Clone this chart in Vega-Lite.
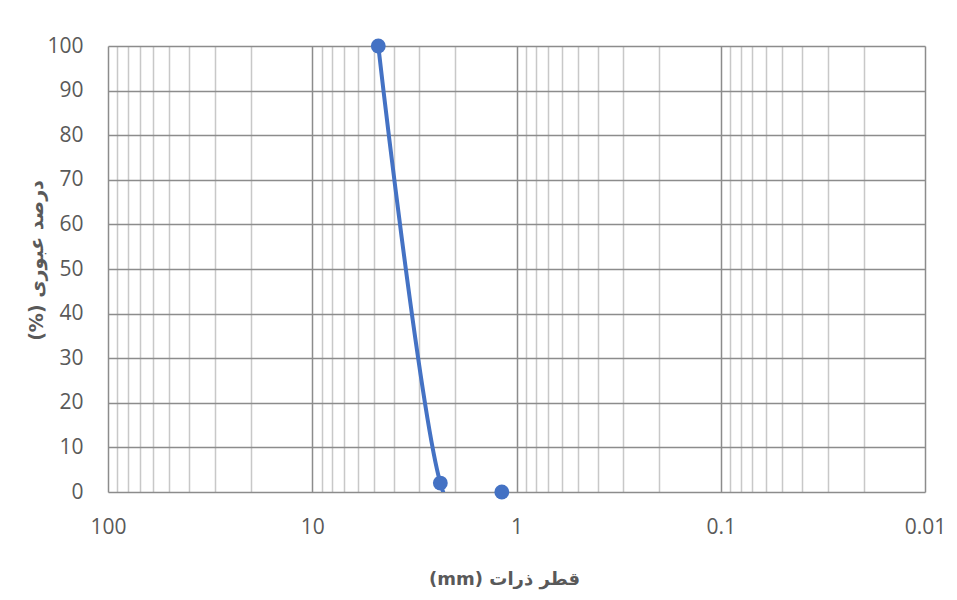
{
  "$schema": "https://vega.github.io/schema/vega-lite/v6.json",
  "width": 817,
  "height": 446,
  "autosize": {"type": "none"},
  "padding": {"left": 108, "top": 46, "right": 32, "bottom": 108},
  "background": "white",
  "config": {"view": {"stroke": null}},
  "data": {"values": [
    {"d": 4.75, "p": 100},
    {"d": 2.36, "p": 2},
    {"d": 1.18, "p": 0}
  ]},
  "encoding": {
    "x": {
      "field": "d", "type": "quantitative",
      "scale": {"type": "log", "domain": [0.01, 100], "reverse": true, "nice": false},
      "axis": {
        "title": "\u202Bقطر ذرات (mm)\u202C",
        "values": [0.01,0.02,0.03,0.04,0.05,0.06,0.07,0.08,0.09,0.1,0.2,0.3,0.4,0.5,0.6,0.7,0.8,0.9,1,2,3,4,5,6,7,8,9,10,20,30,40,50,60,70,80,90,100],
        "format": "~g",
        "labelExpr": "indexof([0.01,0.1,1,10,100], datum.value) >= 0 ? datum.label : ''",
        "grid": true,
        "gridColor": {"condition": {"test": "indexof([0.01,0.1,1,10,100], datum.value) >= 0", "value": "#8c8c8c"}, "value": "#c8c8c8"},
        "gridWidth": 1.5,
        "ticks": false,
        "domain": false,
        "labelFont": "Open Sans",
        "labelFontSize": 21,
        "labelColor": "#595959",
        "labelPadding": 24,
        "labelFlush": false,
        "labelOverlap": false,
        "titleFont": "DejaVu Sans",
        "titleFontSize": 18,
        "titleFontWeight": "bold",
        "titleColor": "#595959",
        "titlePadding": 33,
        "titleX": 396
      }
    },
    "y": {
      "field": "p", "type": "quantitative",
      "scale": {"domain": [0, 100], "nice": false, "zero": true},
      "axis": {
        "title": "\u202Bدرصد عبوری (%)\u202C",
        "values": [0,10,20,30,40,50,60,70,80,90,100],
        "grid": true,
        "gridColor": "#8c8c8c",
        "gridWidth": 1.5,
        "ticks": false,
        "domain": false,
        "labelFont": "Open Sans",
        "labelFontSize": 21,
        "labelColor": "#595959",
        "labelPadding": 25,
        "titleFont": "DejaVu Sans",
        "titleFontSize": 19,
        "titleFontWeight": "bold",
        "titleColor": "#595959",
        "titlePadding": 0,
        "titleY": 214
      }
    }
  },
  "layer": [
    {"mark": {"type": "line", "interpolate": "cardinal", "color": "#4472C4", "strokeWidth": 4, "clip": true}},
    {"mark": {"type": "point", "filled": true, "color": "#4472C4", "size": 220, "opacity": 1}}
  ]
}
